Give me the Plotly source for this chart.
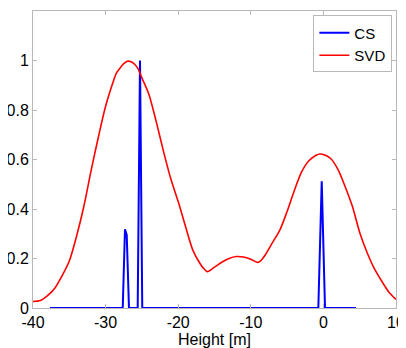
import plotly.graph_objects as go

# SVD profile (height [m], normalized amplitude)
svd_x = [-40, -39, -38, -37, -36, -35, -34, -33, -32, -31, -30, -29, -28.5, -28, -27.5, -27, -26.5, -26,
         -25.5, -25, -24, -23, -22, -21, -20, -19, -18, -17, -16.5, -16, -15, -14, -13, -12, -11, -10, -9,
         -8.5, -8, -7, -6, -5, -4, -3, -2, -1, -0.5, 0, 1, 2, 3, 4, 5, 6, 7, 8, 9, 10]
svd_y = [0.026, 0.030, 0.05, 0.08, 0.13, 0.19, 0.29, 0.41, 0.555, 0.69, 0.815, 0.91, 0.95, 0.97, 0.987, 0.997, 0.995, 0.985,
         0.965, 0.93, 0.86, 0.75, 0.63, 0.52, 0.43, 0.33, 0.235, 0.18, 0.16, 0.147, 0.165, 0.185, 0.2, 0.208, 0.206, 0.197, 0.184,
         0.195, 0.215, 0.265, 0.315, 0.39, 0.475, 0.55, 0.595, 0.617, 0.622, 0.62, 0.604, 0.56, 0.49, 0.41, 0.305, 0.225, 0.16, 0.11, 0.065, 0.035]

# CS reconstruction (sparse)
cs_x = [-37.66, -27.64, -27.33, -27.09, -26.78, -25.58, -25.26, -24.95, -0.70, -0.23, 0.22, 4.49]
cs_y = [0, 0, 0.318, 0.295, 0, 0, 1.0, 0, 0, 0.512, 0, 0]

x_ticks = [-40, -30, -20, -10, 0, 10]
y_ticks = [0, 0.2, 0.4, 0.6, 0.8, 1]
y_tick_labels = ["0", "0.2", "0.4", "0.6", "0.8", "1"]

FONT = "Liberation Sans, Arial, sans-serif"

fig = go.Figure()
fig.add_trace(go.Scatter(x=cs_x, y=cs_y, mode="lines", name="CS",
                         line=dict(color="#0000ff", width=2)))
fig.add_trace(go.Scatter(x=svd_x, y=svd_y, mode="lines", name="SVD", line_shape="spline",
                         line=dict(color="#ff0000", width=1.6, smoothing=0.8)))

axis_common = dict(showgrid=False, zeroline=False, showline=True, linecolor="#b8b8b8", linewidth=1,
                   mirror="ticks", ticks="inside", ticklen=4, tickcolor="#b8b8b8", automargin=False,
                   tickfont=dict(family=FONT, size=16, color="#000000"))

# the page body adds an 8px offset, so the figure is sized to the visible area
fig.update_layout(
    width=398, height=340,
    margin=dict(l=25, r=10, t=3, b=40),
    paper_bgcolor="white", plot_bgcolor="white",
    showlegend=True,
    legend=dict(x=0.99, y=0.985, xanchor="right", yanchor="top",
                bgcolor="white", bordercolor="#b8b8b8", borderwidth=1,
                font=dict(family=FONT, size=15, color="#000000")),
    xaxis=dict(range=[-40, 10], tickvals=x_ticks, ticktext=[str(v) for v in x_ticks],
               title=dict(text="Height [m]", standoff=0,
                          font=dict(family=FONT, size=16, color="#000000")),
               **axis_common),
    yaxis=dict(range=[0, 1.2], tickvals=y_ticks, ticktext=y_tick_labels, **axis_common),
)

fig.write_html("out.html")
